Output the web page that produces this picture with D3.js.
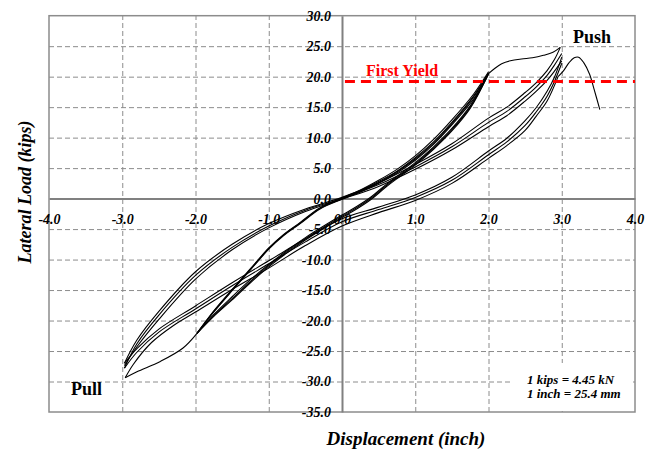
<!DOCTYPE html>
<html>
<head>
<meta charset="utf-8">
<script src="https://cdn.jsdelivr.net/npm/d3@7"></script>
<style>
  body { margin: 0; background: #fff; }
  text { font-family: "Liberation Serif", "Times New Roman", serif; }
</style>
</head>
<body>
<svg id="chart" width="658" height="455"></svg>
<script>
"use strict";

// tick values
const xTicks = [-4, -3, -2, -1, 0, 1, 2, 3, 4];
const yTicks = [-35, -30, -25, -20, -15, -10, -5, 0, 5, 10, 15, 20, 25, 30];

// +/-2 in cycles: rising branch (from -2 peak to +2 peak)
const cycle2Up = [
  [[-1.98,-22.1],[-1.75,-19.2],[-1.5,-16.4],[-1.25,-13.6],[-1,-11.0],[-0.75,-8.7],[-0.5,-6.6],[-0.25,-4.7],[0,-2.9],[0.2,-1.5],[0.4,0.1],[0.6,2.1],[0.8,3.9],[1,5.7],[1.25,8.3],[1.5,11.3],[1.75,15.0],[2,20.4]],
  [[-1.98,-22.1],[-1.75,-19.0],[-1.5,-16.1],[-1.25,-13.3],[-1,-10.8],[-0.75,-8.5],[-0.5,-6.4],[-0.25,-4.5],[0,-2.7],[0.2,-1.3],[0.4,0.3],[0.6,2.3],[0.8,4.1],[1,5.9],[1.25,8.5],[1.5,11.5],[1.75,15.2],[2,20.5]],
  [[-1.98,-22.1],[-1.75,-19.3],[-1.5,-16.6],[-1.25,-13.8],[-1,-11.2],[-0.75,-8.9],[-0.5,-6.8],[-0.25,-4.9],[0,-3.1],[0.2,-1.7],[0.4,-0.1],[0.6,1.9],[0.8,3.7],[1,5.5],[1.25,8.1],[1.5,11.1],[1.75,14.8],[1.98,20.0]]
];

// +/-2 in cycles: falling branch (from +2 peak through origin to -2 peak)
const cycle2Down = [
  [[0,0],[0.25,1.2],[0.5,2.6],[0.75,4.4],[1,6.5],[1.25,9.1],[1.5,12.3],[1.8,16.7],[2,20.5]],
  [[2,20.6],[1.8,16.9],[1.5,12.5],[1.25,9.3],[1,6.7],[0.75,4.5],[0.5,2.8],[0.25,1.3],[0,0],[-0.3,-1.6],[-0.57,-4.0],[-0.8,-6.0],[-1,-8.2],[-1.25,-11.6],[-1.5,-15.0],[-1.75,-18.5],[-1.98,-22.1]],
  [[2,20.8],[1.8,17.2],[1.5,12.9],[1.25,9.7],[1,7.0],[0.75,4.8],[0.5,3.0],[0.25,1.4],[0,0.1],[-0.3,-1.5],[-0.57,-3.9],[-0.8,-5.9],[-1,-8.1],[-1.25,-11.5],[-1.5,-14.9],[-1.75,-18.4],[-1.98,-22.1]],
  [[1.97,19.8],[1.8,16.4],[1.5,12.1],[1.25,8.9],[1,6.3],[0.75,4.2],[0.5,2.5],[0.25,1.1],[0,-0.1],[-0.3,-1.7],[-0.57,-4.1],[-0.8,-6.1],[-1,-8.3],[-1.25,-11.7],[-1.5,-15.1],[-1.75,-18.6],[-1.98,-22.1]]
];

// first excursions past 2 in
const pushHump = [[2,20.5],[2.08,21.3],[2.18,22.1],[2.3,22.6],[2.45,22.9],[2.6,23.1],[2.75,23.5],[2.88,24.0],[2.98,24.8]];
const pullDip = [[-1.98,-22.1],[-2.17,-24.5],[-2.48,-26.7],[-2.8,-28.4],[-2.96,-29.4]];

// +/-3 in cycles: from push peak through origin to pull peak
const cycle3Down = [
  [[2.98,24.8],[2.9,22.8],[2.8,21.0],[2.65,19.0],[2.5,17.4],[2.25,15.0],[2,13.2],[1.5,9.0],[1,5.6],[0.5,2.6],[0,0.2],[-0.5,-1.7],[-1,-4.1],[-1.5,-7.5],[-2,-12.0],[-2.5,-18.5],[-2.8,-23.2],[-2.97,-27.0]],
  [[3,23.8],[2.9,21.9],[2.8,20.2],[2.65,18.3],[2.5,16.7],[2.25,14.3],[2,12.5],[1.5,8.5],[1,5.2],[0.5,2.3],[0,0],[-0.5,-1.9],[-1,-4.5],[-1.5,-8.0],[-2,-12.6],[-2.5,-19.1],[-2.8,-23.8],[-2.97,-27.8]],
  [[3,22.6],[2.9,20.9],[2.8,19.4],[2.65,17.6],[2.5,16.0],[2.25,13.6],[2,11.8],[1.5,8.0],[1,4.8],[0.5,2.0],[0,-0.1],[-0.5,-2.1],[-1,-4.8],[-1.5,-8.4],[-2,-13.2],[-2.5,-19.8],[-2.8,-24.3],[-2.97,-27.4]]
];

// +/-3 in cycles: from pull peak back up to push peak
const cycle3Up = [
  [[-2.97,-27.0],[-2.8,-24.6],[-2.5,-21.4],[-2,-17.6],[-1.5,-13.8],[-1,-10.2],[-0.5,-6.6],[0,-3.3],[0.5,-1.4],[1,0.6],[1.5,3.5],[2,7.8],[2.25,9.9],[2.5,12.8],[2.65,14.9],[2.8,17.6],[2.9,19.9],[3,23.2]],
  [[-2.97,-27.8],[-2.8,-25.2],[-2.5,-21.9],[-2,-18.1],[-1.5,-14.3],[-1,-10.7],[-0.5,-7.1],[0,-3.8],[0.5,-1.8],[1,0.2],[1.5,3.0],[2,7.2],[2.25,9.3],[2.5,12.0],[2.65,14.2],[2.8,16.8],[2.9,19.2],[3,22.2]],
  [[-2.96,-29.4],[-2.85,-27.2],[-2.6,-23.6],[-2.3,-20.8],[-2,-18.6],[-1.5,-14.9],[-1,-11.4],[-0.5,-7.7],[0,-4.5],[0.5,-2.3],[1,-0.3],[1.5,2.5],[2,6.6],[2.25,8.7],[2.5,11.2],[2.65,13.5],[2.8,16.0],[2.95,20.0]]
];

// last push to failure
const finalPush = [[2.95,20.0],[3.02,20.9],[3.1,22.3],[3.17,23.1],[3.23,23.2],[3.3,22.3],[3.38,20.4],[3.44,18.0],[3.52,14.6]];

// first yield level
const yieldLoad = 19.2;
const yieldRange = [0.04, 4];

const svg = d3.select("#chart");
const plotLeft = 49, plotRight = 635, plotTop = 15.7, plotBottom = 412;

const x = d3.scaleLinear().domain([-4, 4]).range([plotLeft, plotRight]);
const y = d3.scaleLinear().domain([-35, 30]).range([plotBottom, plotTop]);

const gridColor = "#8c8c8c";

// dashed grid
svg.append("g")
  .attr("transform", "translate(0," + plotBottom + ")")
  .call(d3.axisBottom(x).tickValues(xTicks.filter(v => v !== 0 && Math.abs(v) !== 4))
    .tickSize(-(plotBottom - plotTop)).tickFormat(""))
  .call(g => g.select(".domain").remove())
  .selectAll("line")
  .attr("stroke", gridColor)
  .attr("stroke-dasharray", "5,3");

svg.append("g")
  .attr("transform", "translate(" + plotLeft + ",0)")
  .call(d3.axisLeft(y).tickValues(yTicks.filter(v => v !== 0 && v !== -35 && v !== 30))
    .tickSize(-(plotRight - plotLeft)).tickFormat(""))
  .call(g => g.select(".domain").remove())
  .selectAll("line")
  .attr("stroke", gridColor)
  .attr("stroke-dasharray", "5,3");

// units note box hides the grid behind it
svg.append("rect")
  .attr("x", 513).attr("y", 363)
  .attr("width", 120).attr("height", 48)
  .attr("fill", "#fff");

// plot border
svg.append("rect")
  .attr("x", plotLeft).attr("y", plotTop)
  .attr("width", plotRight - plotLeft).attr("height", plotBottom - plotTop)
  .attr("fill", "none")
  .attr("stroke", gridColor)
  .attr("stroke-width", 1.5);

// axes through the origin
const xAxisG = svg.append("g")
  .attr("transform", "translate(0," + y(0) + ")")
  .call(d3.axisBottom(x).tickValues(xTicks).tickSize(0).tickPadding(15)
    .tickFormat(d => d.toFixed(1)));

const yAxisG = svg.append("g")
  .attr("transform", "translate(" + x(0) + ",0)")
  .call(d3.axisLeft(y).tickValues(yTicks).tickSize(0).tickPadding(11)
    .tickFormat(d => d.toFixed(1)));

[xAxisG, yAxisG].forEach(g => {
  g.select(".domain").attr("stroke", "#808080").attr("stroke-width", 2);
  g.selectAll("text")
    .attr("font-family", "'Liberation Serif', 'Times New Roman', serif")
    .attr("font-size", 14)
    .attr("font-weight", "bold")
    .attr("font-style", "italic")
    .attr("fill", "#000");
});

// hysteresis curves
const line = d3.line()
  .x(d => x(d[0]))
  .y(d => y(d[1]))
  .curve(d3.curveCatmullRom.alpha(0.5));

const curves = [].concat(cycle2Up, cycle2Down, [pushHump, pullDip], cycle3Down, cycle3Up, [finalPush]);

svg.append("g")
  .selectAll("path")
  .data(curves)
  .join("path")
  .attr("d", line)
  .attr("fill", "none")
  .attr("stroke", "#000")
  .attr("stroke-width", 1.1);

// first yield line
svg.append("line")
  .attr("x1", x(yieldRange[0])).attr("x2", x(yieldRange[1]))
  .attr("y1", y(yieldLoad)).attr("y2", y(yieldLoad))
  .attr("stroke", "#ff0000")
  .attr("stroke-width", 3)
  .attr("stroke-dasharray", "10,6");

svg.append("text")
  .attr("x", 366).attr("y", 76)
  .attr("font-size", 16)
  .attr("font-weight", "bold")
  .attr("fill", "#ff0000")
  .text("First Yield");

svg.append("text")
  .attr("x", 573).attr("y", 43)
  .attr("font-size", 18)
  .attr("font-weight", "bold")
  .text("Push");

svg.append("text")
  .attr("x", 71).attr("y", 395)
  .attr("font-size", 18)
  .attr("font-weight", "bold")
  .text("Pull");

// unit note
const note = svg.append("text")
  .attr("font-size", 13)
  .attr("font-weight", "bold")
  .attr("font-style", "italic");
note.append("tspan").attr("x", 527).attr("y", 384).text("1 kips = 4.45 kN");
note.append("tspan").attr("x", 527).attr("y", 398).text("1 inch = 25.4 mm");

// axis titles
svg.append("text")
  .attr("x", 406).attr("y", 445)
  .attr("text-anchor", "middle")
  .attr("font-size", 19)
  .attr("font-weight", "bold")
  .attr("font-style", "italic")
  .text("Displacement (inch)");

svg.append("text")
  .attr("transform", "translate(31,192) rotate(-90)")
  .attr("text-anchor", "middle")
  .attr("font-size", 18)
  .attr("font-weight", "bold")
  .attr("font-style", "italic")
  .text("Lateral Load (kips)");
</script>
</body>
</html>
